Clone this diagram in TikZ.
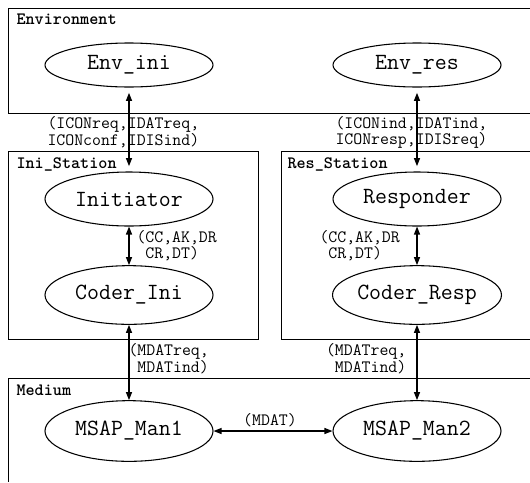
\documentclass[tikz,border=0pt]{standalone}
\usepackage{fontspec}
\usetikzlibrary{shapes.geometric,arrows.meta}

\tikzset{
  proc/.style={ellipse, draw, line width=0.8pt, inner sep=0pt,
               minimum width=126pt, font=\ttfamily\fontsize{17.4}{20}\selectfont},
  sig/.style={inner sep=0pt, anchor=west, align=left,
              font=\ttfamily\fontsize{13}{9.5}\selectfont},
  blocktitle/.style={inner sep=0pt, anchor=west,
                     font=\ttfamily\fontsize{13}{15}\selectfont\bfseries},
  link/.style={{Triangle[length=6pt,width=4.5pt]}-{Triangle[length=6pt,width=4.5pt]},
               line width=0.9pt},
}

\begin{document}
\begin{tikzpicture}[x=0.75pt, y=-0.75pt, line width=0.75pt]
  \useasboundingbox (0,0) rectangle (530,482);

  % blocks (open to the right)
  \draw (530,8) -- (8,8) -- (8,113) -- (530,113);
  \draw (8,151) rectangle (258,339);
  \draw (530,151) -- (281,151) -- (281,339) -- (530,339);
  \draw (530,378) -- (8,378) -- (8,482);

  \node[blocktitle] (tenv) at (16,19)  {Environment};
  \node[blocktitle] (tini) at (16,164) {Ini\_Station};
  \node[blocktitle] (tres) at (287,164) {Res\_Station};
  \node[blocktitle] (tmed) at (16,390) {Medium};

  % processes
  \node[proc, minimum height=33pt]   (envini) at (129,65)  {Env\_ini};
  \node[proc, minimum height=33pt]   (envres) at (417,65)  {Env\_res};
  \node[proc, minimum height=40.5pt] (init)   at (129,199) {Initiator};
  \node[proc, minimum height=40.5pt] (resp)   at (417,199) {Responder};
  \node[proc, minimum height=44pt]   (cini)   at (129,295) {Coder\_Ini};
  \node[proc, minimum height=44pt]   (cresp)  at (417,295) {Coder\_Resp};
  \node[proc, minimum height=45.5pt] (man1)   at (129,431) {MSAP\_Man1};
  \node[proc, minimum height=45.5pt] (man2)   at (417,431) {MSAP\_Man2};

  % channels
  \draw[link, shorten <=4pt, shorten >=4pt] (envini) -- (init);
  \draw[link, shorten <=4pt, shorten >=4pt] (envres) -- (resp);
  \draw[link] (init) -- (cini);
  \draw[link] (resp) -- (cresp);
  \draw[link] (cini) -- (man1);
  \draw[link] (cresp) -- (man2);
  \draw[link] (man1) -- (man2);

  % signal lists
  \node[sig] (sigini) at (47,132.5)  {(ICONreq,IDATreq,\\ICONconf,IDISind)};
  \node[sig] (sigres) at (335,132.5) {(ICONind,IDATind,\\ICONresp,IDISreq)};
  \node[sig] (pduini) at (136,245.5) {(CC,AK,DR\\\hphantom{(}CR,DT)};
  \node[sig] (pdures) at (319,245.5) {(CC,AK,DR\\\hphantom{(}CR,DT)};
  \node[sig] (medini) at (128,359)   {(MDATreq,\\\hphantom{(}MDATind)};
  \node[sig] (medres) at (325.5,359) {(MDATreq,\\\hphantom{(}MDATind)};
  \node[sig, anchor=center] (mdat) at (270,420) {(MDAT)};
\end{tikzpicture}
\end{document}
